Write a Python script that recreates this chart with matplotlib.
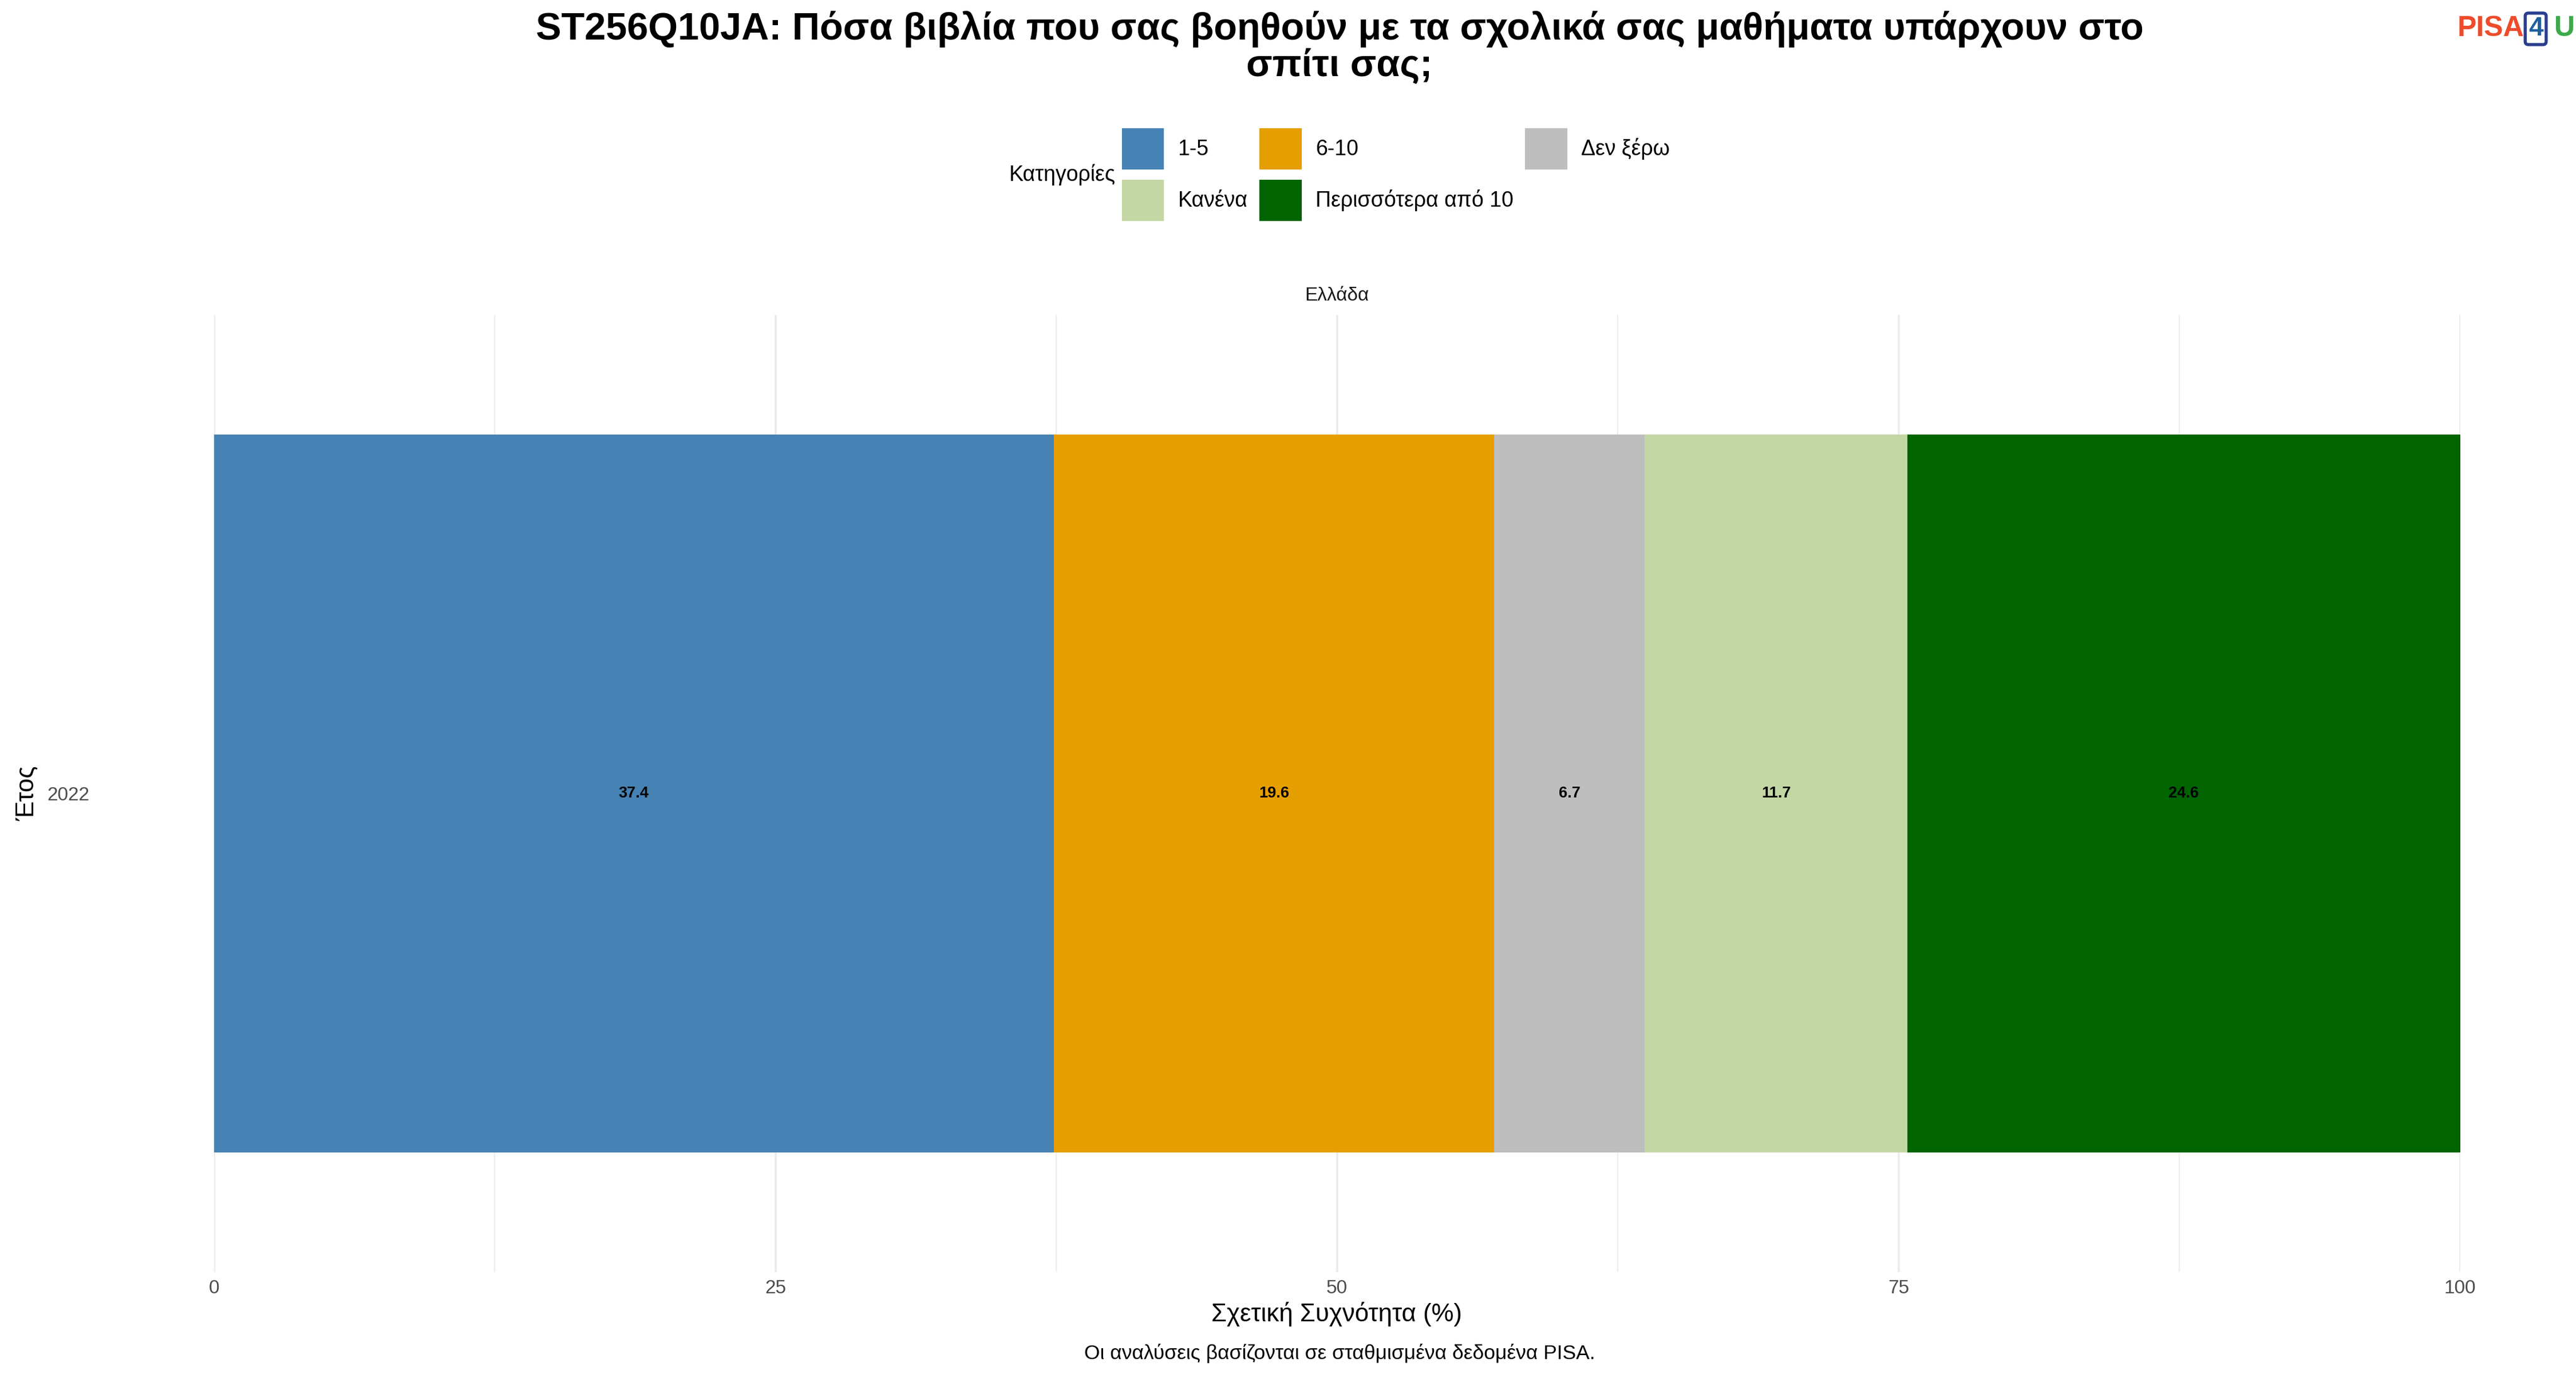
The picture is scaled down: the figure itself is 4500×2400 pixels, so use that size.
import matplotlib

matplotlib.use("Agg")
import matplotlib.pyplot as plt
from matplotlib.patches import Patch

plt.rcParams["font.family"] = ["Liberation Sans", "DejaVu Sans"]

# data
categories = ["1-5", "6-10", "Δεν ξέρω", "Κανένα", "Περισσότερα από 10"]
values = [37.4, 19.6, 6.7, 11.7, 24.6]
colors = ["#4682B4", "#E69F00", "#BEBEBE", "#C3D7A4", "#006400"]
year_labels = ["2022"]

fig = plt.figure(figsize=(15, 8), dpi=300)
ax = fig.add_axes([0.083, 0.074, 0.872, 0.697])

left = 0
for cat, val, col in zip(categories, values, colors):
    ax.barh(1, val, left=left, height=0.9, color=col, label=cat)
    ax.text(left + val / 2, 1, f"{val:.1f}", ha="center", va="center",
            fontsize=6.5, fontweight="bold", color="black")
    left += val

ax.set_xlim(0, 100)
ax.set_ylim(0.4, 1.6)
ax.set_xticks([0, 25, 50, 75, 100])
ax.set_xticks([12.5, 37.5, 62.5, 87.5], minor=True)
ax.set_yticks([1])
ax.set_yticklabels(year_labels)
ax.tick_params(axis="x", which="both", length=0, labelsize=8, colors="#4D4D4D", pad=3)
ax.tick_params(axis="y", which="both", length=0, labelsize=8, colors="#4D4D4D", pad=52)
ax.grid(True, which="major", color="#EBEBEB", linewidth=0.9)
ax.grid(True, which="minor", axis="x", color="#EBEBEB", linewidth=0.45)
ax.set_axisbelow(True)
for s in ax.spines.values():
    s.set_visible(False)
ax.set_xlabel("Σχετική Συχνότητα (%)", fontsize=10.5, labelpad=2)
ax.set_ylabel("Έτος", fontsize=10.5)
ax.yaxis.set_label_coords(-0.078, 0.5)
ax.set_title("Ελλάδα", fontsize=8, color="#1A1A1A", pad=6)

fig.suptitle("ST256Q10JA: Πόσα βιβλία που σας βοηθούν με τα σχολικά σας μαθήματα υπάρχουν στο\nσπίτι σας;",
             x=0.52, y=0.992, fontsize=16, fontweight="bold", linespacing=1.0)

handles = [Patch(color=c) for c in colors]
order = [0, 3, 1, 4, 2]
fig.legend([handles[i] for i in order], [categories[i] for i in order],
           ncol=3, loc="center left", bbox_to_anchor=(0.436, 0.873), frameon=False,
           fontsize=9, handlelength=1.85, handleheight=2.4, handletextpad=0.7,
           columnspacing=0.6, labelspacing=0.6, borderaxespad=0, borderpad=0)
fig.text(0.433, 0.873, "Κατηγορίες", ha="right", va="center", fontsize=9)

fig.text(0.52, 0.008, "Οι αναλύσεις βασίζονται σε σταθμισμένα δεδομένα PISA.",
         ha="center", va="bottom", fontsize=8.5)

# logo
fig.text(0.954, 0.979, "PISA", ha="left", va="center", fontsize=12, fontweight="bold", color="#EE4B2B")
fig.text(0.9815, 0.979, "4", ha="left", va="center", fontsize=11, fontweight="bold", color="#1F5FA0",
         bbox=dict(boxstyle="round,pad=0.12", fc="white", ec="#2B3F8F", lw=1.3))
fig.text(0.9915, 0.979, "U", ha="left", va="center", fontsize=12, fontweight="bold", color="#3DAA4A")

fig.savefig("out.png", dpi=300)
